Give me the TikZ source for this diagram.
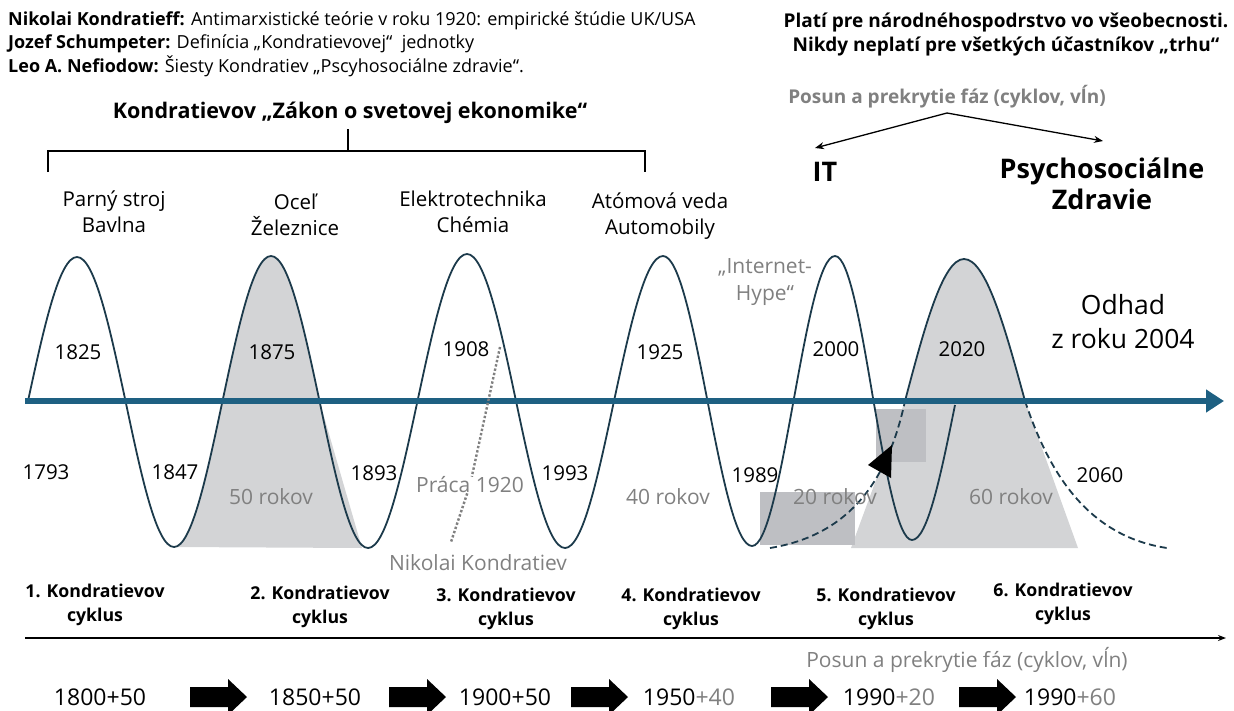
\documentclass[tikz,border=0pt]{standalone}
\usepackage{fontspec}
\setmainfont{Open Sans}
\usetikzlibrary{arrows.meta}
\definecolor{wavec}{RGB}{28,58,75}
\definecolor{axisblue}{RGB}{30,96,130}
\definecolor{lgrey}{RGB}{211,212,214}
\definecolor{dgrey}{RGB}{190,191,195}
\definecolor{tgrey}{RGB}{128,128,128}
\newcommand\blockarr[1]{\fill[black] (#1) ++(0,-10) -- ++(38,0) -- ++(0,-8) -- ++(19,18) -- ++(-19,18) -- ++(0,-8) -- ++(-38,0) -- cycle;}
\begin{document}
\begin{tikzpicture}[x=1pt,y=-1pt,
  every node/.style={inner sep=0pt},
  info/.style={anchor=west,font=\fontsize{18}{22}\selectfont},
  hdr/.style={font=\bfseries\fontsize{19}{24}\selectfont,align=center},
  ghdr/.style={hdr,text=tgrey,font=\bfseries\fontsize{19}{24}\selectfont},
  big/.style={font=\bfseries\fontsize{27}{31}\selectfont,align=center},
  lbl/.style={font=\fontsize{20.5}{26}\selectfont,align=center},
  glbl/.style={lbl,text=tgrey,font=\fontsize{21}{27}\selectfont},
  odh/.style={font=\fontsize{26.5}{34}\selectfont,align=center},
  cyc/.style={font=\bfseries\fontsize{17.7}{24}\selectfont,align=center},
  btm/.style={font=\fontsize{23}{26}\selectfont},
  wavel/.style={draw=wavec,line width=1.8pt},
  conn/.style={draw=black,line width=1.3pt},
  arr/.style={conn,-{Stealth[length=9pt,width=7pt]}},
  dotl/.style={draw=tgrey,line width=2.4pt,dotted},
  dashl/.style={wavel,dash pattern=on 7pt off 4pt}
]
\useasboundingbox (0,0) rectangle (1234,710);
% grey areas
\fill[lgrey] (174,547) cos (222.5,401) sin (271,256) cos (319.5,401) -- (362,548) -- cycle;
\fill[lgrey] (851,548) -- (905,401) sin (964,259) cos (1025,401) -- (1078,548) -- cycle;
\fill[dgrey] (760,492) rectangle (855,545);
\fill[dgrey] (876,409) rectangle (926,462);
% wave
\draw[wavel] (28,401) sin (77,257) cos (125.5,401) sin (174,547) cos (222.5,401) sin (271,256) cos (319.5,401) sin (368,548) cos (417.5,401) sin (467,254) cos (516,401) sin (565,548) cos (614,401) sin (663,256) cos (707.5,401) sin (752,546) cos (793.5,401) sin (835,256) cos (873.5,401) sin (912,540) cos (955,405);
\draw[wavel] (905,401) sin (964,259) cos (1025,401);
\draw[dashl] (770,548) .. controls (850,535) and (888,480) .. (905,401);
\draw[dashl] (1025,401) .. controls (1045,460) and (1080,535) .. (1167,548);
\fill[black] (868,465) -- (892,445) -- (891,478) -- cycle;
% axis
\coordinate (axL) at (25,401);
\coordinate (axR) at (1224,401);
\draw[axisblue,line width=5.5pt,-{Triangle[length=18pt,width=22pt]}] (axL) -- (axR);
% top texts
\node[info] (i1) at (8,21) {\textbf{Nikolai Kondratieff:} Antimarxistické teórie v roku 1920: empirické štúdie UK/USA};
\node[info] (i2) at (8,44) {\textbf{Jozef Schumpeter:} Definícia „Kondratievovej“ \ jednotky};
\node[info] (i3) at (8,66) {\textbf{Leo A. Nefiodow:} Šiesty Kondratiev „Pscyhosociálne zdravie“.};
\node[hdr,font=\bfseries\fontsize{21.5}{24}\selectfont] (zakon) at (350,113) {Kondratievov „Zákon o svetovej ekonomike“};
\coordinate (brT) at (348,129);
\coordinate (brM) at (348,151);
\coordinate (brL) at (48,172);
\coordinate (brR) at (645,172);
\draw[conn] (brT) -- (brM);
\draw[conn] (brL) |- (brM) -| (brR);
\node[hdr] (plati) at (1006,35) {Platí pre národnéhospodrstvo vo všeobecnosti.\\Nikdy neplatí pre všetkých účastníkov „trhu“};
\node[ghdr] (posun) at (947,97) {Posun a prekrytie fáz (cyklov, vĺn)};
\coordinate (apex) at (947,113);
\coordinate (itTip) at (815,148);
\coordinate (psTip) at (1103,141);
\draw[arr] (apex) -- (itTip);
\draw[arr] (apex) -- (psTip);
\node[big] (it) at (825,172) {IT};
\node[big] (psy) at (1102,184) {Psychosociálne\\Zdravie};
% tech labels
\node[lbl] (t1) at (114,212) {Parný stroj\\Bavlna};
\node[lbl] (t2) at (295,215) {Oceľ\\Železnice};
\node[lbl] (t3) at (473,212) {Elektrotechnika\\Chémia};
\node[lbl] (t4) at (660,216) {Atómová veda\\Automobily};
\node[glbl] (hype) at (765,282) {„Internet-\\Hype“};
\node[odh] (odhad) at (1123,322) {Odhad\\z roku 2004};
% years
\node[lbl] (y1825) at (78,352) {1825};
\node[lbl] (y1875) at (272,352) {1875};
\node[lbl] (y1908) at (466,349) {1908};
\node[lbl] (y1925) at (660,352) {1925};
\node[lbl] (y2000) at (836,349) {2000};
\node[lbl] (y2020) at (962,349) {2020};
\node[lbl] (y1793) at (46,472) {1793};
\node[lbl] (y1847) at (175,472) {1847};
\node[lbl] (y1893) at (374,473) {1893};
\node[lbl] (y1993) at (565,473) {1993};
\node[lbl] (y1989) at (755,475) {1989};
\node[lbl] (y2060) at (1100,475) {2060};
% grey labels
\node[glbl] (r50) at (271,497) {50 rokov};
\node[glbl] (r40) at (668,497) {40 rokov};
\node[glbl] (r20) at (835,497) {20 rokov};
\node[glbl] (r60) at (1011,497) {60 rokov};
\node[glbl] (praca) at (470,485) {Práca 1920};
\node[glbl] (nk) at (478,563) {Nikolai Kondratiev};
\coordinate (dotA) at (500,347);
\coordinate (dotB) at (451,542);
\draw[dotl] (dotA) -- (praca);
\draw[dotl] (praca) -- (dotB);
% cycles
\node[cyc] (c1) at (95,605) {1. Kondratievov\\cyklus};
\node[cyc] (c2) at (320,607) {2. Kondratievov\\cyklus};
\node[cyc] (c3) at (506,609) {3. Kondratievov\\cyklus};
\node[cyc] (c4) at (691,609) {4. Kondratievov\\cyklus};
\node[cyc] (c5) at (886,609) {5. Kondratievov\\cyklus};
\node[cyc] (c6) at (1063,604) {6. Kondratievov\\cyklus};
\coordinate (bL) at (25,638);
\coordinate (bR) at (1226,638);
\draw[conn,-{Stealth[length=8pt,width=6pt]}] (bL) -- (bR);
\node[glbl] (posun2) at (967,660) {Posun a prekrytie fáz (cyklov, vĺn)};
% bottom row
\node[btm] (b1) at (100,697) {1800+50};
\node[btm] (b2) at (315,697) {1850+50};
\node[btm] (b3) at (505,697) {1900+50};
\node[btm] (b4) at (689,697) {1950{\color{tgrey}+40}};
\node[btm] (b5) at (889,697) {1990{\color{tgrey}+20}};
\node[btm] (b6) at (1070,697) {1990{\color{tgrey}+60}};
\blockarr{190,697}
\blockarr{389,697}
\blockarr{571,697}
\blockarr{771,697}
\blockarr{959,697}
\end{tikzpicture}
\end{document}
